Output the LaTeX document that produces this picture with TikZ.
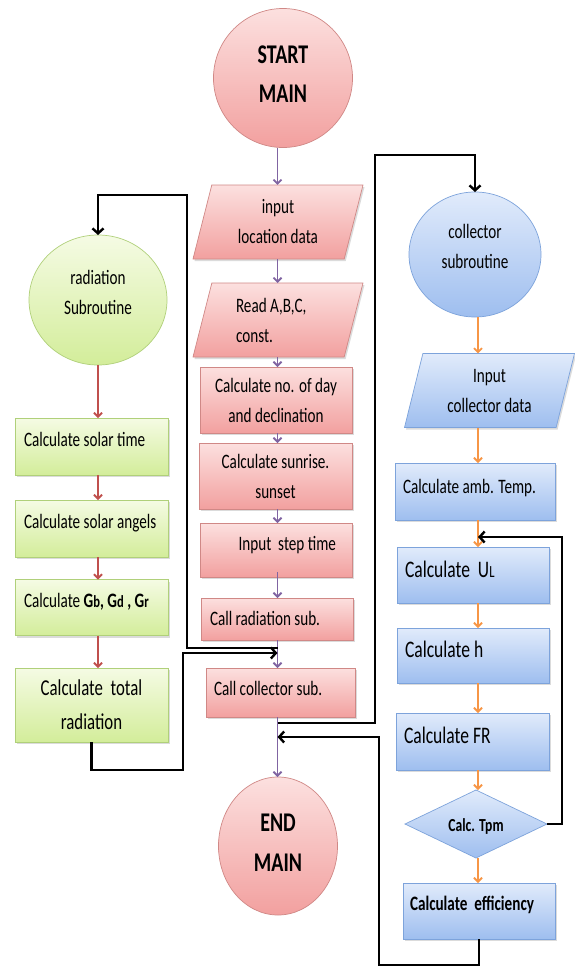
\documentclass[tikz,border=0pt]{standalone}
\usepackage{fontspec}
\setmainfont{Carlito}[FakeStretch=0.74]
\usetikzlibrary{shapes.geometric,arrows.meta,shadows,calc}
\definecolor{pkTop}{HTML}{FCE0DF}
\definecolor{pkBot}{HTML}{F2A09F}
\definecolor{pkLine}{HTML}{D08886}
\definecolor{grTop}{HTML}{F5FBE4}
\definecolor{grBot}{HTML}{D3ED9A}
\definecolor{grLine}{HTML}{B0D07A}
\definecolor{blTop}{HTML}{E1EBFB}
\definecolor{blBot}{HTML}{9EBEEF}
\definecolor{blLine}{HTML}{7DA3DB}
\definecolor{purp}{HTML}{8064A2}
\definecolor{redA}{HTML}{C0504D}
\definecolor{orA}{HTML}{F79646}
\newcommand\smlet[1]{{\fontsize{17}{17}\selectfont #1}}
\begin{document}
\begin{tikzpicture}[x=1pt,y=-1pt,
  shp/.style={line width=0.7pt, inner sep=0pt, outer sep=0pt},
  ftn/.style={font=\fontsize{20.5}{30}\selectfont},
  pkf/.style={draw=pkLine, top color=pkTop, bottom color=pkBot},
  grf/.style={draw=grLine, top color=grTop, bottom color=grBot},
  blf/.style={draw=blLine, top color=blTop, bottom color=blBot},
  shad/.style={drop shadow={opacity=0.28, shadow xshift=1.5pt, shadow yshift=-2pt}},
  rbox/.style={rectangle, shp, shad, ftn},
  para/.style={trapezium, shp, shad, ftn, trapezium left angle=67, trapezium right angle=113,
    trapezium stretches body, minimum width=170pt, minimum height=74pt},
  bl/.style={text height=20pt, text depth=#1},
  parr/.style={draw=purp, line width=1.8pt, -{Straight Barb[length=4pt,width=8pt]}},
  rarr/.style={draw=redA, line width=1.8pt, -{Straight Barb[length=4pt,width=8pt]}},
  oarr/.style={draw=orA, line width=1.8pt, -{Straight Barb[length=4pt,width=8pt]}},
  blk/.style={draw=black, line width=2.4pt, -{Straight Barb[length=5pt,width=11pt]}}
]
\fill[white] (0,0) rectangle (574,967);
\useasboundingbox (0,0) rectangle (574,967);

% ---------- main column ----------
\node[circle, shp, pkf, minimum size=139pt, font=\fontsize{27}{39}\selectfont\bfseries, align=center] (start) at (283,78) {START\\MAIN\\[-31pt]\mbox{}};
\node[para, pkf, align=center] (p1) at (278,222) {input\\location data};
\node[para, pkf, align=flush left, text width=84pt] (p2) at (278,320) {Read A,B,C,\\const.};
\node[rbox, pkf, minimum width=152pt, minimum height=66pt, align=center] (d1) at (276,400) {Calculate no. of day\\and declination};
\node[rbox, pkf, minimum width=153pt, minimum height=66pt, align=center] (d2) at (275.5,476) {Calculate sunrise.\\sunset};
\node[rbox, pkf, minimum width=152pt, minimum height=54pt, text width=120pt, align=flush right, bl=20pt] (d3) at (276,550) {Input\ \ step time};
\node[rbox, pkf, minimum width=152pt, minimum height=42pt, text width=135pt, align=flush left, bl=8pt] (d4) at (277.5,619) {Call radiation sub.};
\node[rbox, pkf, minimum width=149pt, minimum height=49pt, text width=134pt, align=flush left, bl=15pt] (d5) at (281,692.5) {Call collector sub.};
\node[ellipse, shp, pkf, minimum width=119pt, minimum height=138pt, font=\fontsize{27}{40}\selectfont\bfseries, align=center] (end) at (278,846) {END\\MAIN\\[-34pt]\mbox{}};

% ---------- radiation column ----------
\node[ellipse, shp, grf, ftn, minimum width=138pt, minimum height=130pt, align=center] (rad) at (98,300) {radiation\\Subroutine\\[-14pt]\mbox{}};
\node[rbox, grf, minimum width=153pt, minimum height=57pt, text width=135pt, align=flush left, bl=20pt] (g1) at (91.5,446.5) {\mbox{Calculate solar time}};
\node[rbox, grf, minimum width=153pt, minimum height=57pt, text width=135pt, align=flush left, bl=20pt] (g2) at (91.5,528.5) {\mbox{Calculate solar angels}};
\node[rbox, grf, minimum width=153pt, minimum height=56pt, text width=135pt, align=flush left, bl=20pt] (g3) at (91.5,607.5) {\mbox{Calculate \textbf{G\smlet{b}, G\smlet{d} , G\smlet{r}}}};
\node[rbox, grf, minimum width=153pt, minimum height=74pt, font=\fontsize{22.7}{34}\selectfont, align=center] (g4) at (91.5,705) {Calculate\ \ total\\radiation};

% ---------- collector column ----------
\node[ellipse, shp, blf, ftn, minimum width=132pt, minimum height=125pt, align=center] (col) at (475,254.5) {collector\\subroutine\\[-14pt]\mbox{}};
\node[para, blf, align=center] (p3) at (489.5,390.5) {Input\\collector data};
\node[rbox, blf, minimum width=160pt, minimum height=57pt, text width=144pt, align=flush left, bl=17pt] (b1) at (475,491.5) {\mbox{Calculate amb. Temp.}};
\node[rbox, blf, minimum width=152pt, minimum height=56pt, text width=136pt, align=flush left, bl=16pt, font=\fontsize{23.7}{26}\selectfont] (b2) at (473,575) {Calculate\ \ U\smlet{L}};
\node[rbox, blf, minimum width=152pt, minimum height=55pt, text width=136pt, align=flush left, bl=17pt, font=\fontsize{23.7}{26}\selectfont] (b3) at (473,655.5) {Calculate h};
\node[rbox, blf, minimum width=153pt, minimum height=57pt, text width=137pt, align=flush left, bl=17pt, font=\fontsize{23.7}{26}\selectfont] (b4) at (472.5,741.5) {Calculate FR};
\node[diamond, shp, blf, aspect=2.1, minimum width=142pt, minimum height=68pt, font=\fontsize{18.4}{20}\selectfont\bfseries, bl=5pt] (dm) at (476,824) {Calc. Tpm};
\node[rbox, blf, minimum width=152pt, minimum height=56pt, text width=138pt, align=flush left, bl=22pt, font=\fontsize{20.5}{24}\selectfont\bfseries] (b5) at (479,911) {\mbox{Calculate\ \ efficiency}};

% ---------- reference coordinates ----------
\coordinate (mx) at (277.5,0);
\coordinate (ox) at (478,0);
\coordinate (rcall) at ($(d4.south -| mx)+(0,8)$);
\coordinate (rret) at ($(d4.south -| mx)+(0,13)$);
\coordinate (ccall) at ($(d5.south -| mx)+(0,6)$);
\coordinate (cret) at ($(d5.south -| mx)+(0,20)$);
\coordinate (loopt) at ($(b2.north -| ox)+(0,-10)$);

% ---------- purple arrows ----------
\draw[parr] (start.south -| mx) -- (p1.north -| mx);
\draw[parr] (p1.south -| mx) -- (p2.north -| mx);
\draw[parr] (p2.south -| mx) -- (d1.north -| mx);
\draw[parr] (d1.south -| mx) -- (d2.north -| mx);
\draw[parr] (d2.south -| mx) -- (d3.north -| mx);
\draw[parr] ($(d3.south -| mx)+(0,-5)$) -- (d4.north -| mx);
\draw[parr] (d4.south -| mx) -- (d5.north -| mx);
\draw[parr] (d5.south -| mx) -- (end.north -| mx);

% ---------- red arrows ----------
\draw[rarr] (rad.south) -- (rad.south |- g1.north);
\draw[rarr] (g1.south -| rad.south) -- (g2.north -| rad.south);
\draw[rarr] (g2.south -| rad.south) -- (g3.north -| rad.south);
\draw[rarr] (g3.south -| rad.south) -- (g4.north -| rad.south);

% ---------- orange arrows ----------
\draw[oarr] (col.south -| ox) -- (p3.north -| ox);
\draw[oarr] (p3.south -| ox) -- (b1.north -| ox);
\draw[oarr] (b1.south -| ox) -- (b2.north -| ox);
\draw[oarr] (b2.south -| ox) -- (b3.north -| ox);
\draw[oarr] (b3.south -| ox) -- (b4.north -| ox);
\draw[oarr] (b4.south -| ox) -- (dm.north -| ox);
\draw[oarr] (dm.south -| ox) -- (b5.north -| ox);

% ---------- black connectors ----------
\draw[blk] (rcall) -- ++(-90.5,0) |- ($(rad.north)+(0,-40)$) -- (rad.north);
\draw[blk] (g4.south) -- ++(0,28) -- ++(91.5,0) |- (rret);
\draw[blk] (ccall) -- ++(97.5,0) |- ($(col.north)+(0,-37)$) -- (col.north);
\draw[blk] (b5.south) -- ++(0,26) -- ++(-100,0) |- (cret);
\draw[blk] (dm.east) -- ++(15,0) |- (loopt);
\end{tikzpicture}
\end{document}
